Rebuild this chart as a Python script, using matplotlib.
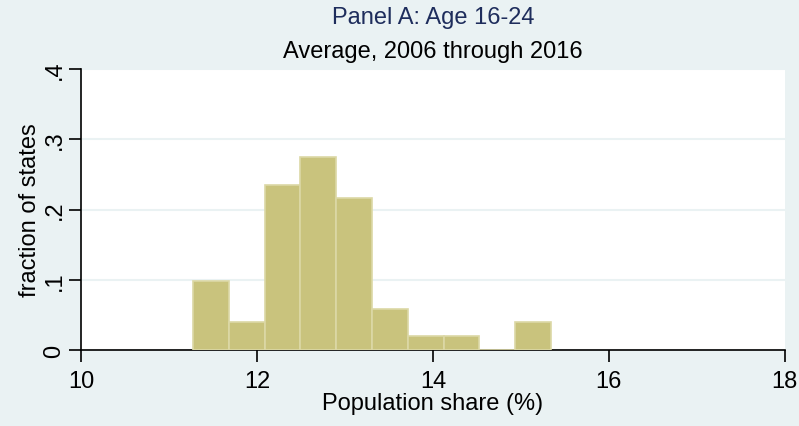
import numpy as np
import matplotlib
matplotlib.use("Agg")
import matplotlib.pyplot as plt

plt.rcParams['font.family'] = ['Liberation Sans', 'DejaVu Sans']

# Histogram: 51 states (incl. DC), 10 bins
bin_start = 11.27
bin_width = 0.407
counts = [5, 2, 12, 14, 11, 3, 1, 1, 0, 2]
n_states = 51

x_ticks = [10, 12, 14, 16, 18]
y_ticks = [0, 0.1, 0.2, 0.3, 0.4]
y_labels = ['0', '.1', '.2', '.3', '.4']

bg = '#EAF2F3'
bar_fill = '#C9C37D'
bar_edge = '#DCD8A6'

fractions = np.array(counts) / n_states
lefts = bin_start + bin_width * np.arange(len(counts))

fig = plt.figure(figsize=(7.99, 4.27), dpi=100, facecolor=bg)
ax = fig.add_axes([0.102, 0.178, 0.880, 0.658])
ax.set_facecolor('white')

ax.bar(lefts, fractions, width=bin_width, align='edge',
       color=bar_fill, edgecolor=bar_edge, linewidth=1.2, zorder=3)

ax.set_xlim(10, 18)
ax.set_ylim(0, 0.4)
ax.set_xticks(x_ticks)
ax.set_yticks(y_ticks)
ax.set_yticklabels(y_labels, rotation=90, va='center')
ax.grid(axis='y', color=bg, linewidth=1.5, zorder=0)
ax.set_axisbelow(True)

for s in ['top', 'right']:
    ax.spines[s].set_visible(False)
for s in ['left', 'bottom']:
    ax.spines[s].set_linewidth(1.2)
ax.tick_params(direction='out', length=8.5, width=1.2, labelsize=17)
ax.tick_params(axis='x', pad=6)
ax.tick_params(axis='y', pad=3)

ax.set_xlabel('Population share (%)', fontsize=17, labelpad=0)
ax.set_ylabel('fraction of states', fontsize=17, labelpad=2)

fig.text(0.542, 0.958, 'Panel A: Age 16-24', ha='center', va='center',
         fontsize=17, color='#1E2D5C')
fig.text(0.542, 0.878, 'Average, 2006 through 2016', ha='center', va='center',
         fontsize=17, color='black')

fig.savefig('out.png', dpi=100, facecolor=bg)
